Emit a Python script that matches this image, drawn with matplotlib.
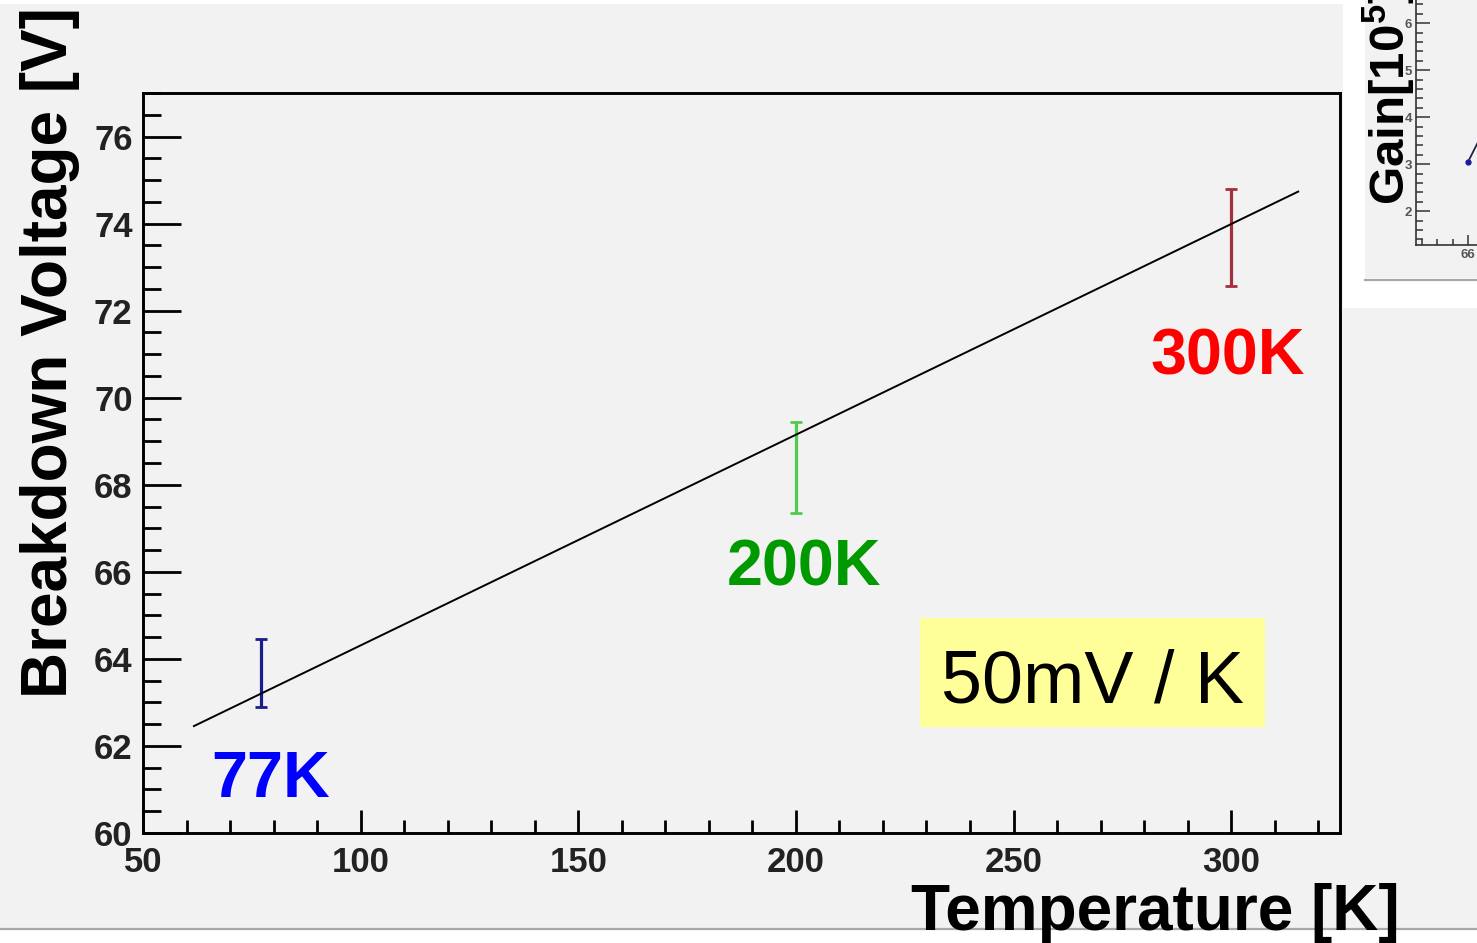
import matplotlib
matplotlib.use("Agg")
import matplotlib.pyplot as plt
from matplotlib.ticker import MultipleLocator
from matplotlib.patches import Rectangle
from matplotlib.lines import Line2D

plt.rcParams["font.family"] = ["Liberation Sans", "DejaVu Sans"]
plt.rcParams["mathtext.fontset"] = "custom"
plt.rcParams["mathtext.rm"] = "Liberation Sans"
plt.rcParams["mathtext.bf"] = "Liberation Sans:bold"

# ---- measured breakdown voltages ----
temp_labels = ["77K", "200K", "300K"]
temperatures = [77, 200, 300]
breakdown_v = [63.67, 68.40, 73.68]
breakdown_err = [0.78, 1.05, 1.11]
bar_colors = ["#1c1c8a", "#4fcc4f", "#a3303e"]
label_colors = ["#0000ff", "#009900", "#ff0000"]
label_pos_t = [79.4, 201.9, 299.3]
label_pos_v = [60.83, 65.68, 70.54]

# ---- linear fit ----
fit_intercept = 59.47
fit_slope = 0.0484
fit_t_range = [61.7, 315.4]
slope_text = "50mV / K"

# ---- neighbouring gain panel (partly visible) ----
gain_bias = [66.0, 66.5]
gain_values = [3.05, 3.70]

W, H = 1477, 943
fig = plt.figure(figsize=(W / 100, H / 100), dpi=100, facecolor="#f2f2f2")


def fx(px):
    return px / W


def fy(py):
    return 1 - py / H


def frect(x0, y0, x1, y1, color, z=0.5):
    fig.add_artist(Rectangle((fx(x0), fy(y1)), fx(x1) - fx(x0), fy(y0) - fy(y1),
                             transform=fig.transFigure, facecolor=color,
                             edgecolor="none", zorder=z))


# page decoration: white strips and separators
frect(0, 0, 1343, 4, "white")
frect(1343, 0, W, 308, "white")
frect(1365, 0, W, 278, "#f2f2f2", z=0.6)
fig.add_artist(Line2D([fx(1365), 1], [fy(280), fy(280)], transform=fig.transFigure,
                      color="#a8a8a8", lw=1.6, zorder=0.7))
frect(0, 929, W, H, "white")
fig.add_artist(Line2D([0, 1], [fy(929), fy(929)], transform=fig.transFigure,
                      color="#a8a8a8", lw=1.6, zorder=0.7))

# ---- main axes ----
ax = fig.add_axes([fx(143), fy(833), fx(1340) - fx(143), fy(93) - fy(833)])
ax.set_zorder(1)
ax.set_facecolor("#f2f2f2")
ax.set_xlim(50, 325)
ax.set_ylim(60, 77)
for s in ax.spines.values():
    s.set_linewidth(2.1)
ax.xaxis.set_major_locator(MultipleLocator(50))
ax.xaxis.set_minor_locator(MultipleLocator(10))
ax.yaxis.set_major_locator(MultipleLocator(2))
ax.yaxis.set_minor_locator(MultipleLocator(0.5))
ax.tick_params(which="both", direction="in", top=False, right=False, width=2,
               colors="black", labelcolor="#222222")
ax.tick_params(axis="y", which="major", length=27, pad=7.5, labelsize=25)
ax.tick_params(axis="y", which="minor", length=13)
ax.tick_params(axis="x", which="major", length=16.5, pad=9, labelsize=25)
ax.tick_params(axis="x", which="minor", length=9.5)
for lab in ax.get_xticklabels() + ax.get_yticklabels():
    lab.set_fontweight("bold")

# fit line
fit_v = [fit_intercept + fit_slope * t for t in fit_t_range]
ax.plot(fit_t_range, fit_v, color="black", lw=1.4, zorder=3)

# error bars
for t, v, e, c in zip(temperatures, breakdown_v, breakdown_err, bar_colors):
    ax.errorbar([t], [v], yerr=[e], fmt="none", ecolor=c, elinewidth=2.3,
                capsize=4.5, capthick=2, zorder=2)

# temperature labels
for lab, t, v, c in zip(temp_labels, label_pos_t, label_pos_v, label_colors):
    ax.text(t, v, lab, color=c, fontsize=46.5, fontweight="bold",
            ha="center", va="baseline")

# slope annotation box
ax.add_patch(Rectangle((228.5, 62.43), 79.3, 2.5, facecolor="#ffff99",
                       edgecolor="none", zorder=2))
ax.text(268.2, 63.0, slope_text, fontsize=53, ha="center", va="baseline", zorder=3)

# axis titles
fig.text(fx(67), fy(352), "Breakdown Voltage [V]", rotation=90,
         rotation_mode="anchor", ha="center", va="baseline",
         fontsize=46, fontweight="bold", zorder=5)
fig.text(fx(1155), fy(930), "Temperature [K]", ha="center", va="baseline",
         fontsize=46, fontweight="bold", zorder=5)

# ---- gain panel ----
gx = fig.add_axes([fx(1416), fy(245), fx(1600) - fx(1416), fy(-100) - fy(245)])
gx.set_zorder(2)
gx.set_facecolor("#f2f2f2")
gx.set_xlim(64.32, 70.26)
gx.set_ylim(1.28, 8.62)
for side in ("top", "right"):
    gx.spines[side].set_visible(False)
for side in ("left", "bottom"):
    gx.spines[side].set_linewidth(1.2)
    gx.spines[side].set_color("#333333")
gx.xaxis.set_major_locator(MultipleLocator(2))
gx.xaxis.set_minor_locator(MultipleLocator(0.5))
gx.yaxis.set_major_locator(MultipleLocator(1))
gx.yaxis.set_minor_locator(MultipleLocator(0.2))
gx.tick_params(which="both", direction="in", top=False, right=False, width=1.1,
               colors="#333333", labelcolor="#555555", labelsize=9.5)
gx.tick_params(axis="y", which="major", length=10, pad=3)
gx.tick_params(axis="y", which="minor", length=5)
gx.tick_params(axis="x", which="major", length=7, pad=3)
gx.tick_params(axis="x", which="minor", length=4)
for lab in gx.get_xticklabels() + gx.get_yticklabels():
    lab.set_fontweight("bold")
gx.plot(gain_bias, gain_values, color="#222244", lw=1.3, marker="o", ms=3.5,
        mfc="#1a1aa0", mec="#1a1aa0")
fig.text(fx(1405), fy(205), r"Gain[10$^{\mathbf{5}}$]", rotation=90,
         rotation_mode="anchor", ha="left", va="baseline",
         fontsize=35.5, fontweight="bold", zorder=5)

fig.savefig("out.png", dpi=100, facecolor=fig.get_facecolor())
